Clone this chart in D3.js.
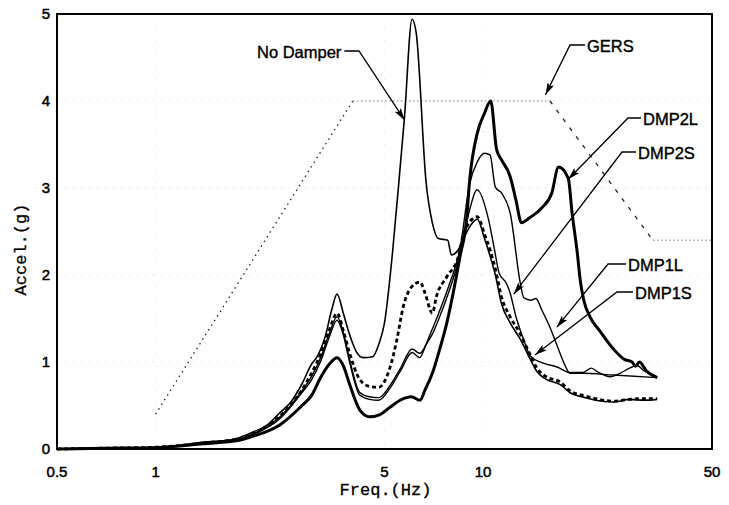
<!DOCTYPE html>
<html>
<head>
<meta charset="utf-8">
<script src="https://cdn.jsdelivr.net/npm/d3@7"></script>
<style>
  body { margin: 0; background: #fff; }
  svg { display: block; }
</style>
</head>
<body>
<script>
// frequency (Hz), acceleration (g)
let noDamper = [[0.5,0],[0.6,0.005],[0.7,0.01],[0.85,0.012],[1.0,0.02],[1.2,0.04],[1.4,0.08],[1.6,0.09],[1.8,0.13],[2.0,0.2],[2.2,0.28],[2.4,0.42],[2.6,0.55],[2.8,0.75],[3.0,0.98],[3.1,1.05],[3.3,1.3],[3.45,1.6],[3.58,1.78],[3.75,1.55],[3.9,1.33],[4.1,1.12],[4.3,1.05],[4.6,1.06],[4.8,1.2],[5.0,1.45],[5.3,2.29],[5.6,3.3],[5.75,3.8],[6.07,4.94],[6.25,4.78],[6.7,3.06],[7.0,2.6],[7.3,2.42],[7.8,2.4],[8.0,2.23],[8.4,2.29],[8.8,2.45],[9.2,2.58],[9.6,2.64],[10.1,2.42],[10.5,2.22],[10.9,2.0],[11.4,1.66],[12.1,1.45],[13.0,1.26],[13.9,1.04],[14.6,0.89],[15.6,0.8],[17.2,0.74],[18.4,0.65],[20.5,0.59],[22,0.56],[25,0.54],[28,0.57],[31,0.56],[34,0.57]];
let dmp1S = [[0.5,0],[0.7,0.01],[1.0,0.02],[1.4,0.07],[1.8,0.12],[2.0,0.18],[2.4,0.38],[2.8,0.68],[3.0,0.88],[3.2,1.1],[3.4,1.38],[3.58,1.56],[3.75,1.35],[3.9,1.12],[4.2,0.8],[4.5,0.72],[4.8,0.71],[5.2,0.94],[5.45,1.25],[5.7,1.63],[6.04,1.86],[6.42,1.92],[6.65,1.79],[7.0,1.56],[7.2,1.75],[7.75,1.98],[8.4,2.21],[8.7,2.46],[9.1,2.61],[9.6,2.67],[9.8,2.62],[10.1,2.47],[10.5,2.29],[10.9,2.07],[11.4,1.74],[12.1,1.52],[13.0,1.32],[13.9,1.09],[14.6,0.93],[15.6,0.83],[17.2,0.77],[18.4,0.67],[20.5,0.61],[22,0.58],[25,0.55],[28,0.57],[31,0.58],[34,0.58]];
let dmp2L = [[0.5,0],[0.7,0.008],[1.0,0.015],[1.4,0.06],[1.8,0.1],[2.0,0.15],[2.4,0.28],[2.8,0.5],[3.0,0.62],[3.2,0.83],[3.4,0.98],[3.58,1.05],[3.75,0.95],[3.9,0.76],[4.2,0.45],[4.5,0.37],[4.8,0.39],[5.2,0.48],[5.58,0.56],[6.04,0.6],[6.42,0.56],[6.65,0.68],[7.0,0.87],[7.4,1.17],[7.75,1.45],[8.1,1.79],[8.5,2.21],[8.9,2.63],[9.1,3.09],[9.6,3.63],[10.1,3.86],[10.55,4.0],[11.0,3.44],[11.4,3.32],[12.1,3.13],[12.6,2.86],[13.1,2.6],[13.9,2.66],[15.1,2.77],[16.2,2.94],[17.0,3.24],[18.2,3.11],[18.7,2.71],[19.4,2.25],[19.8,1.94],[20.3,1.71],[21.2,1.52],[22.8,1.35],[25,1.15],[27,1.03],[28.5,1.0],[29.2,0.95],[30,1.0],[31.5,0.9],[34,0.82]];
let dmp2S = [[0.5,0],[0.7,0.01],[1.0,0.015],[1.4,0.07],[1.8,0.11],[2.0,0.17],[2.4,0.35],[2.8,0.65],[3.0,0.8],[3.2,1.02],[3.4,1.3],[3.58,1.48],[3.75,1.3],[3.9,1.02],[4.2,0.62],[4.5,0.57],[4.8,0.56],[5.2,0.7],[5.6,0.9],[6.07,1.11],[6.4,1.05],[6.7,1.2],[7.0,1.32],[7.3,1.48],[7.9,1.83],[8.5,2.23],[9.1,2.75],[9.58,2.98],[10.4,2.63],[10.8,2.32],[11.2,2.02],[11.8,1.9],[12.1,1.79],[12.6,1.52],[13.2,1.29],[14.0,1.06],[15.2,0.99],[16.9,0.94],[18.4,0.88],[20.2,0.88],[21.4,0.93],[22.5,0.88],[24.4,0.83],[26.2,0.87],[28,0.93],[29.5,0.96],[31,0.9],[34,0.83]];
let dmp1L = [[0.5,0],[0.7,0.01],[1.0,0.018],[1.4,0.075],[1.8,0.115],[2.0,0.18],[2.4,0.37],[2.8,0.67],[3.0,0.84],[3.2,1.06],[3.4,1.34],[3.58,1.52],[3.75,1.33],[3.9,1.05],[4.2,0.65],[4.5,0.6],[4.8,0.59],[5.2,0.73],[5.6,0.93],[6.07,1.15],[6.4,1.1],[7.0,1.38],[7.3,1.55],[7.9,1.9],[8.5,2.3],[9.1,3.05],[9.6,3.3],[10.1,3.4],[10.5,3.38],[10.9,3.01],[11.4,2.94],[12.1,2.71],[13.0,1.9],[13.3,1.74],[14.0,1.71],[14.5,1.73],[15.1,1.6],[16.0,1.4],[16.9,1.17],[17.9,0.94],[18.4,0.87],[20,0.87],[25,0.85],[34,0.82]];
let gersRise = [[1,0.4],[4,4]];
let gersTop = [[4,4],[16,4]];
let gersFall = [[16,4],[33,2.4]];
let gersEnd = [[33,2.4],[50,2.4]];

let xTicks = [0.5, 1, 5, 10, 50];
let yTicks = [0, 1, 2, 3, 4, 5];
let xTitle = "Freq.(Hz)";
let yTitle = "Accel.(g)";
// label, text x, text y, elbow x, arrow tip (freq, accel)
let labels = [
    ["No Damper", 257, 52, 359, 5.76, 3.78],
    ["GERS", 587, 46, 570, 15.5, 4.07],
    ["DMP2L", 643, 119, 628, 18.2, 3.1],
    ["DMP2S", 638, 153, 622, 12.4, 1.78],
    ["DMP1L", 628, 265, 608, 16.8, 1.4],
    ["DMP1S", 635, 293, 617, 14.4, 1.08]
];

function run() {
    let W = 729, H = 505;
    let left = 57, right = 712, top = 14, bottom = 449;
    let svg = d3.select("body").append("svg")
        .attr("width", W)
        .attr("height", H);
    let x = d3.scaleLog().domain([0.5, 50]).range([left, right]);
    let y = d3.scaleLinear().domain([0, 5]).range([bottom, top]);

    // faint grid
    svg.append("g").selectAll("line").data(yTicks.slice(1, 5)).enter().append("line")
        .attr("x1", left).attr("x2", right)
        .attr("y1", d => y(d)).attr("y2", d => y(d))
        .attr("stroke", "#c8c8c8").attr("stroke-width", 0.8)
        .attr("stroke-dasharray", "1,7");
    svg.append("g").selectAll("line").data([1, 5, 10]).enter().append("line")
        .attr("x1", d => x(d)).attr("x2", d => x(d))
        .attr("y1", top).attr("y2", bottom)
        .attr("stroke", "#d8d8d8").attr("stroke-width", 0.8)
        .attr("stroke-dasharray", "1,12");

    let line = d3.line().x(d => x(d[0])).y(d => y(d[1]));

    // GERS envelope
    svg.append("path").attr("d", line(gersRise))
        .attr("fill", "none").attr("stroke", "#222").attr("stroke-width", 1.3)
        .attr("stroke-dasharray", "1.5,4");
    svg.append("path").attr("d", line(gersTop))
        .attr("fill", "none").attr("stroke", "#999").attr("stroke-width", 1)
        .attr("stroke-dasharray", "2,2");
    svg.append("path").attr("d", line(gersFall))
        .attr("fill", "none").attr("stroke", "#222").attr("stroke-width", 1.3)
        .attr("stroke-dasharray", "4,7");
    svg.append("path").attr("d", line(gersEnd))
        .attr("fill", "none").attr("stroke", "#999").attr("stroke-width", 1)
        .attr("stroke-dasharray", "2,2");

    let curve = d3.line().curve(d3.curveMonotoneX).x(d => x(d[0])).y(d => y(d[1]));
    function draw(data, w, dash) {
        let p = svg.append("path").attr("d", curve(data))
            .attr("fill", "none").attr("stroke", "#000")
            .attr("stroke-width", w).attr("stroke-linejoin", "round");
        if (dash) p.attr("stroke-dasharray", dash);
    }
    draw(noDamper, 1.6);
    draw(dmp1S, 2.8, "4,3");
    draw(dmp2S, 1.4);
    draw(dmp1L, 1.4);
    draw(dmp2L, 3);

    // frame
    svg.append("rect").attr("x", left).attr("y", top)
        .attr("width", right - left).attr("height", bottom - top)
        .attr("fill", "none").attr("stroke", "#000").attr("stroke-width", 2);

    // tick labels
    svg.append("g").selectAll("text").data(xTicks).enter().append("text")
        .attr("x", d => x(d)).attr("y", bottom + 28)
        .attr("text-anchor", "middle")
        .attr("stroke", "#000").attr("stroke-width", 0.5)
        .style("font", "15px 'Liberation Sans', Arial, sans-serif")
        .text(d => d);
    svg.append("g").selectAll("text").data(yTicks).enter().append("text")
        .attr("x", left - 7).attr("y", d => y(d) + 5)
        .attr("text-anchor", "end")
        .attr("stroke", "#000").attr("stroke-width", 0.5)
        .style("font", "15px 'Liberation Sans', Arial, sans-serif")
        .text(d => d);

    // axis titles
    svg.append("text").attr("x", (left + right) / 2 + 1).attr("y", 495)
        .attr("text-anchor", "middle")
        .attr("stroke", "#000").attr("stroke-width", 0.3)
        .style("font", "17px 'Liberation Mono', 'Courier New', monospace")
        .text(xTitle);
    svg.append("text").attr("transform", "translate(26," + ((top + bottom) / 2 + 18) + ") rotate(-90)")
        .attr("text-anchor", "middle")
        .attr("stroke", "#000").attr("stroke-width", 0.3)
        .style("font", "17px 'Liberation Mono', 'Courier New', monospace")
        .text(yTitle);

    // callouts
    svg.append("defs").append("marker")
        .attr("id", "arr").attr("viewBox", "0 0 14 8")
        .attr("refX", 14).attr("refY", 4)
        .attr("markerWidth", 14).attr("markerHeight", 7)
        .attr("markerUnits", "userSpaceOnUse")
        .attr("orient", "auto")
        .append("path").attr("d", "M0,0L14,4L0,8L3,4z").attr("fill", "#000");
    labels.forEach(l => {
        let tx = l[1], ty = l[2], ex = l[3];
        let tipX = x(l[4]), tipY = y(l[5]);
        let onLeft = ex < tx;
        let t = svg.append("text").attr("x", tx).attr("y", ty + 6)
            .attr("stroke", "#000").attr("stroke-width", 0.4)
            .style("font", "16.5px 'Liberation Sans', Arial, sans-serif")
            .text(l[0]);
        let lx = onLeft ? tx - 2 : tx + t.node().getComputedTextLength() + 3;
        svg.append("path")
            .attr("d", "M" + lx + "," + (ty - 1) + "L" + ex + "," + (ty - 1) + "L" + tipX + "," + tipY)
            .attr("fill", "none").attr("stroke", "#000").attr("stroke-width", 1.3)
            .attr("marker-end", "url(#arr)");
    });
}
window.onload = run;
</script>
</body>
</html>
